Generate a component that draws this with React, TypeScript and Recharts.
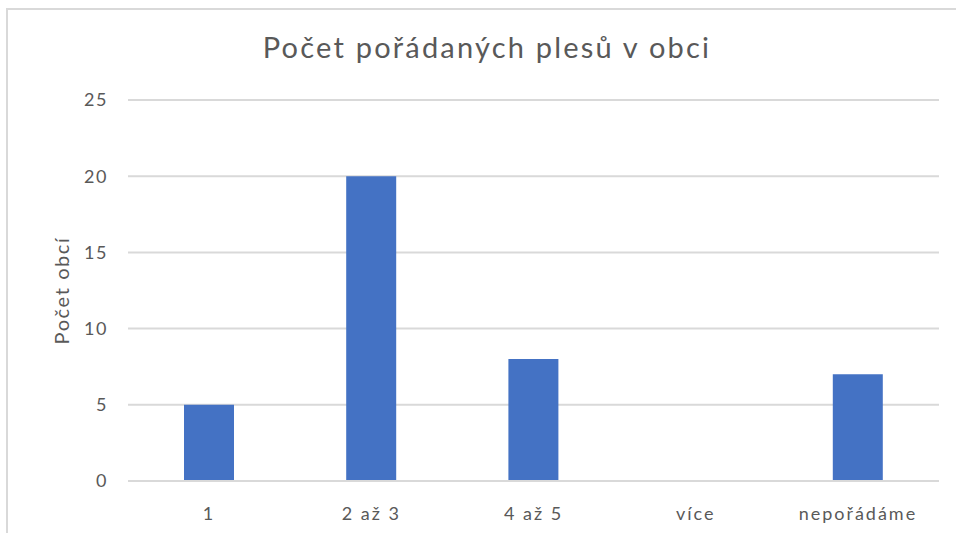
import { BarChart, Bar, XAxis, YAxis, CartesianGrid, Label } from 'recharts';

const categories = ['1', '2 až 3', '4 až 5', 'více', 'nepořádáme'];
const counts = [5, 20, 8, 0, 7];
const yTicks = [0, 5, 10, 15, 20, 25];

const data = categories.map((name, i) => ({ name, value: counts[i] }));

const FONT = 'Lato, "Open Sans", sans-serif';
const TEXT = '#595959';

export default function App() {
  return (
    <div style={{ position: 'absolute', left: 0, top: 0, width: 956, height: 533, overflow: 'hidden', background: '#fff', fontFamily: FONT }}>
      <div
        style={{
          position: 'absolute',
          left: 6,
          top: 8,
          width: 980,
          height: 560,
          border: '2px solid #d9d9d9',
        }}
      />
      <div
        style={{
          position: 'absolute',
          left: 0,
          width: 974,
          top: 29,
          textAlign: 'center',
          fontSize: 29,
          color: TEXT,
          letterSpacing: 2.2,
        }}
      >
        Počet pořádaných plesů v obci
      </div>
      <div style={{ position: 'absolute', left: 0, top: 0 }}>
        <BarChart width={956} height={533} data={data} margin={{ top: 100, right: 17, left: 0, bottom: 0 }}>
          <CartesianGrid vertical={false} stroke="#d9d9d9" strokeWidth={2} />
          <XAxis
            dataKey="name"
            axisLine={{ stroke: '#d9d9d9', strokeWidth: 2 }}
            tickLine={false}
            tickMargin={20}
            tick={{ fill: TEXT, fontSize: 18, fontFamily: FONT, letterSpacing: 2 }}
            height={52}
          />
          <YAxis
            width={128}
            domain={[0, 25]}
            ticks={yTicks}
            axisLine={false}
            tickLine={false}
            tickMargin={14}
            tick={{ fill: TEXT, fontSize: 18, fontFamily: FONT, letterSpacing: 1.5 }}
          >
            <Label
              value="Počet obcí"
              angle={-90}
              position="center"
              dx={-2}
              style={{ fill: TEXT, fontSize: 20, fontFamily: FONT, textAnchor: 'middle', letterSpacing: 1.6 }}
            />
          </YAxis>
          <Bar dataKey="value" fill="#4472c4" barSize={50} isAnimationActive={false} />
        </BarChart>
      </div>
    </div>
  );
}
